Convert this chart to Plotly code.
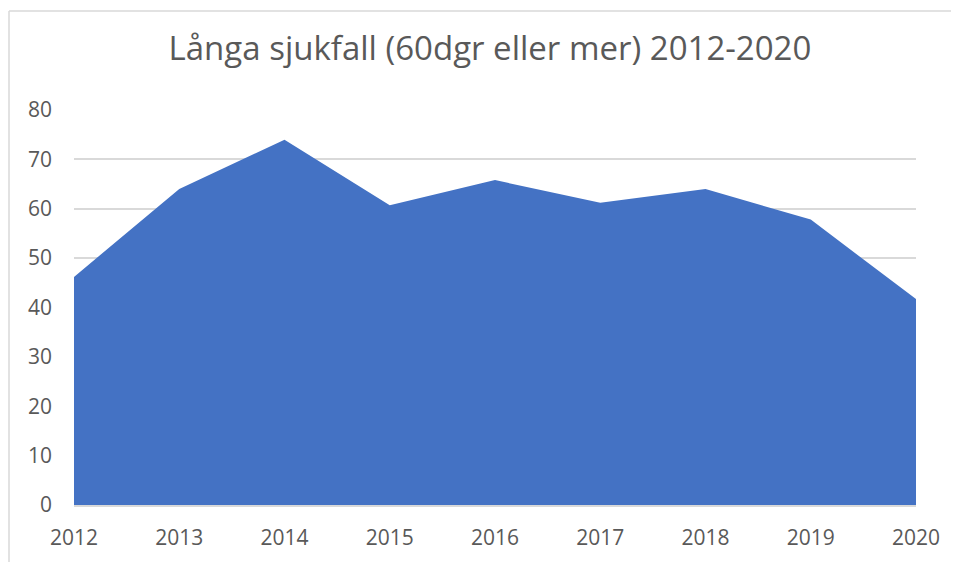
import plotly.graph_objects as go

years = [2012, 2013, 2014, 2015, 2016, 2017, 2018, 2019, 2020]
values = [46.2, 64.0, 74.0, 60.7, 65.8, 61.2, 64.0, 57.8, 41.7]
y_ticks = [0, 10, 20, 30, 40, 50, 60, 70, 80]
title_text = "Långa sjukfall (60dgr eller mer) 2012-2020"

# page has an 8px body margin; figure coords = page coords - 8
W, H = 959, 562
L, R, T, B = 66, 51, 102, 65

fig = go.Figure()
fig.add_trace(go.Scatter(
    x=years, y=values, mode="lines", fill="tozeroy",
    line=dict(color="#4472C4", width=0), fillcolor="#4472C4",
    hoverinfo="x+y", showlegend=False,
))

pw, ph = W - L - R, H - T - B
def px_x(p):
    return (p - L) / pw
def px_y(p):
    return (H - B - p) / ph

fig.add_shape(type="line", xref="paper", yref="paper",
              x0=px_x(1), x1=px_x(W + 5), y0=px_y(3), y1=px_y(3),
              line=dict(color="#d9d9d9", width=1.5), layer="below")
fig.add_shape(type="line", xref="paper", yref="paper",
              x0=px_x(1), x1=px_x(1), y0=px_y(3), y1=px_y(H + 5),
              line=dict(color="#d9d9d9", width=1.5), layer="below")

fig.update_layout(
    width=W, height=H,
    margin=dict(l=L, r=R, t=T, b=B),
    paper_bgcolor="white", plot_bgcolor="white",
    title=dict(text=title_text, x=0.494, xref="paper", xanchor="center",
               y=1 - 40 / H, yanchor="middle",
               font=dict(family="Open Sans", size=33, color="#595959")),
    xaxis=dict(range=[2012, 2020], tickvals=years, ticktext=[str(y) for y in years],
               showgrid=False, showline=True, linecolor="#d9d9d9", linewidth=1.5,
               zeroline=False, ticks="", ticklabelstandoff=13,
               tickfont=dict(family="Open Sans", size=21, color="#595959")),
    yaxis=dict(range=[0, 80], tickvals=y_ticks, showgrid=True, gridcolor="#d9d9d9",
               gridwidth=1.5, zeroline=False, showline=False, ticks="",
               ticklabelstandoff=21,
               tickfont=dict(family="Open Sans", size=21, color="#595959")),
)

fig.write_html("out.html")
